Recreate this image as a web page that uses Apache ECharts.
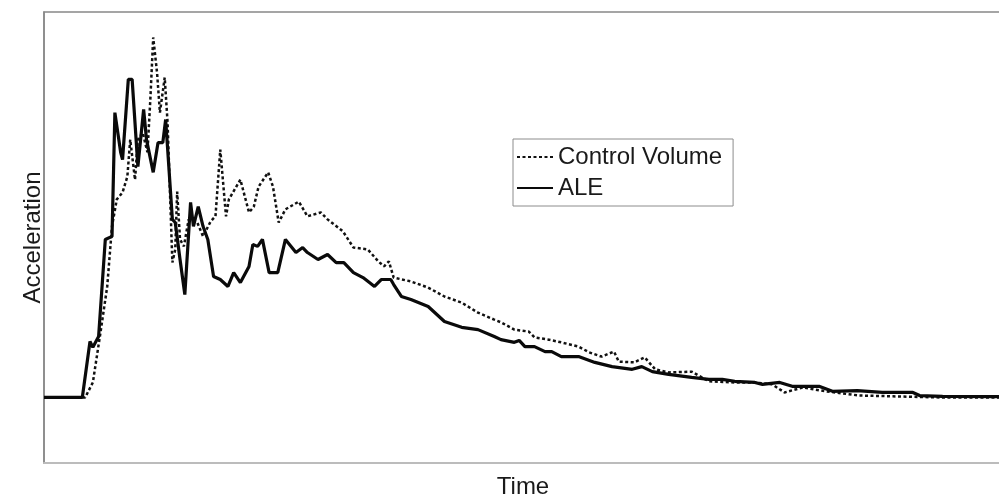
<!DOCTYPE html>
<html>
<head>
<meta charset="utf-8">
<script src="https://cdn.jsdelivr.net/npm/echarts@6/dist/echarts.min.js"></script>
<style>
  html, body { margin: 0; padding: 0; background: #fff; }
  #chart { width: 999px; height: 499px; }
</style>
</head>
<body>
<div id="chart"></div>
<script>
// ALE (solid line)
const aleTime = [0, 4.0, 4.8, 5.1, 5.7, 6.4, 7.1, 7.4, 8.0, 8.2, 8.8, 9.2, 9.8, 10.4, 10.7, 11.4, 11.9, 12.4, 12.7,
  13.4, 13.7, 14.2, 14.7, 15.3, 15.6, 16.1, 16.6, 17.1, 17.7, 18.4, 19.2, 19.8, 20.5, 21.4, 21.8, 22.3, 22.8,
  23.5, 24.4, 25.2, 26.3, 27.0, 27.5, 28.6, 29.6, 30.5, 31.3, 32.3, 33.3, 34.5, 35.2, 36.2, 36.5, 37.3, 38.3,
  40.1, 41.8, 43.6, 45.3, 47.0, 47.7, 49.1, 49.6, 50.2, 51.2, 52.3, 53.0, 54.0, 55.8, 57.5, 59.3, 61.4, 62.4,
  63.5, 65.2, 67.6, 69.4, 70.8, 72.1, 74.2, 75.0, 76.8, 78.1, 80.9, 82.3, 84.9, 87.5, 90.7, 91.4, 93.8, 100];
const aleAcc = [0, 0, 14.5, 13.0, 15.8, 41.0, 41.8, 73.9, 63.6, 61.7, 82.5, 82.5, 59.9, 74.7, 66.9, 58.4, 66.1, 66.1, 72.1,
  46.2, 45.4, 35.8, 26.7, 50.6, 44.4, 49.5, 44.4, 41.0, 31.4, 30.6, 28.8, 32.4, 29.8, 34.0, 39.7, 39.2, 41.0,
  32.4, 32.4, 41.0, 37.6, 38.9, 37.6, 35.8, 37.1, 35.0, 35.0, 32.4, 31.1, 28.8, 30.6, 30.6, 29.3, 26.2, 25.4,
  23.6, 19.7, 18.2, 17.6, 15.8, 15.0, 14.3, 14.8, 13.2, 13.2, 11.9, 11.9, 10.6, 10.6, 9.1, 8.0, 7.3, 8.0,
  6.7, 6.0, 5.2, 4.7, 4.7, 4.2, 3.9, 3.4, 3.9, 2.9, 2.9, 1.6, 1.8, 1.3, 1.3, 0.5, 0.3, 0.2];

// Control Volume (dotted line)
const cvTime = [0, 4.3, 5.1, 5.9, 6.6, 7.1, 7.6, 8.2, 8.7, 9.0, 9.5, 9.8, 10.3, 10.8, 11.1, 11.4, 11.8, 12.1, 12.6, 12.9,
  13.4, 13.7, 13.9, 14.2, 14.6, 15.1, 16.0, 16.6, 17.4, 17.9, 18.4, 19.0, 19.3, 20.5, 21.4, 21.9, 22.4, 23.4,
  23.9, 24.5, 25.2, 26.6, 27.5, 28.9, 29.6, 31.2, 32.3, 33.8, 34.9, 35.5, 36.0, 36.5, 38.3, 40.1, 41.8, 43.6,
  45.3, 47.0, 47.7, 49.1, 50.6, 51.2, 52.7, 54.0, 55.8, 56.9, 58.2, 59.5, 60.0, 61.6, 62.7, 63.8, 65.2, 67.6,
  69.4, 72.1, 74.2, 76.0, 77.3, 79.2, 81.6, 85.1, 88.6, 93.8, 100];
const cvAcc = [0, 0, 3.9, 16.9, 28.8, 44.4, 51.4, 53.2, 57.3, 66.9, 56.5, 66.9, 68.7, 63.6, 77.3, 93.4, 84.3, 73.9, 83.0, 71.3,
  35.0, 38.4, 53.4, 41.0, 39.2, 46.2, 45.4, 41.8, 45.7, 47.0, 64.3, 47.0, 51.4, 56.5, 48.0, 49.5, 54.7, 58.4,
  54.7, 45.4, 48.8, 50.8, 47.0, 48.0, 46.2, 43.1, 38.9, 38.4, 35.3, 34.0, 35.3, 31.1, 30.1, 28.5, 26.2, 24.6,
  22.0, 20.2, 19.5, 17.6, 17.1, 15.6, 15.0, 14.3, 13.2, 11.7, 10.6, 11.9, 9.3, 9.1, 10.4, 7.3, 6.5, 6.7,
  4.2, 3.9, 3.9, 3.4, 1.3, 2.6, 1.6, 0.5, 0.3, 0, 0];

const pairs = (xs, ys) => xs.map((x, i) => [x, ys[i]]);

const font = "'Liberation Sans', Arial, sans-serif";
const chart = echarts.init(document.getElementById("chart"));
chart.setOption({
  animation: false,
  textStyle: { fontFamily: font },
  grid: {
    left: 44,
    right: -3,
    top: 12,
    bottom: 36,
    outerBoundsMode: "none",
    show: true,
    borderColor: "#888",
    borderWidth: 1.5
  },
  legend: {
    orient: "vertical",
    left: 513,
    top: 139,
    padding: [6, 11, 6, 3],
    itemGap: 7,
    itemWidth: 36,
    itemHeight: 14,
    borderColor: "#8c8c8c",
    borderWidth: 1,
    itemStyle: { opacity: 0 },
    textStyle: { fontSize: 24, color: "#1a1a1a", fontFamily: font },
    data: ["Control Volume", "ALE"]
  },
  xAxis: {
    type: "value",
    min: 0,
    max: 100,
    name: "Time",
    nameLocation: "middle",
    nameGap: 12,
    nameTextStyle: { fontSize: 24, color: "#1a1a1a", fontFamily: font },
    axisLine: { onZero: false, lineStyle: { color: "#bcbcbc", width: 2 } },
    axisTick: { show: false },
    axisLabel: { show: false },
    splitLine: { show: false }
  },
  yAxis: {
    type: "value",
    min: -17,
    max: 100,
    name: "Acceleration",
    nameLocation: "middle",
    nameGap: -1,
    nameTextStyle: { fontSize: 24, color: "#1a1a1a", fontFamily: font },
    axisLine: { show: true, lineStyle: { color: "#888", width: 1.5 } },
    axisTick: { show: false },
    axisLabel: { show: false },
    splitLine: { show: false }
  },
  series: [
    {
      name: "Control Volume",
      type: "line",
      symbol: "none",
      data: pairs(cvTime, cvAcc),
      lineStyle: { color: "#111", width: 2.5, type: [3, 2.5] },
      itemStyle: { color: "#111" },
      z: 2
    },
    {
      name: "ALE",
      type: "line",
      symbol: "none",
      data: pairs(aleTime, aleAcc),
      lineStyle: { color: "#0a0a0a", width: 3.2 },
      itemStyle: { color: "#0a0a0a" },
      z: 3
    }
  ]
});
</script>
</body>
</html>
